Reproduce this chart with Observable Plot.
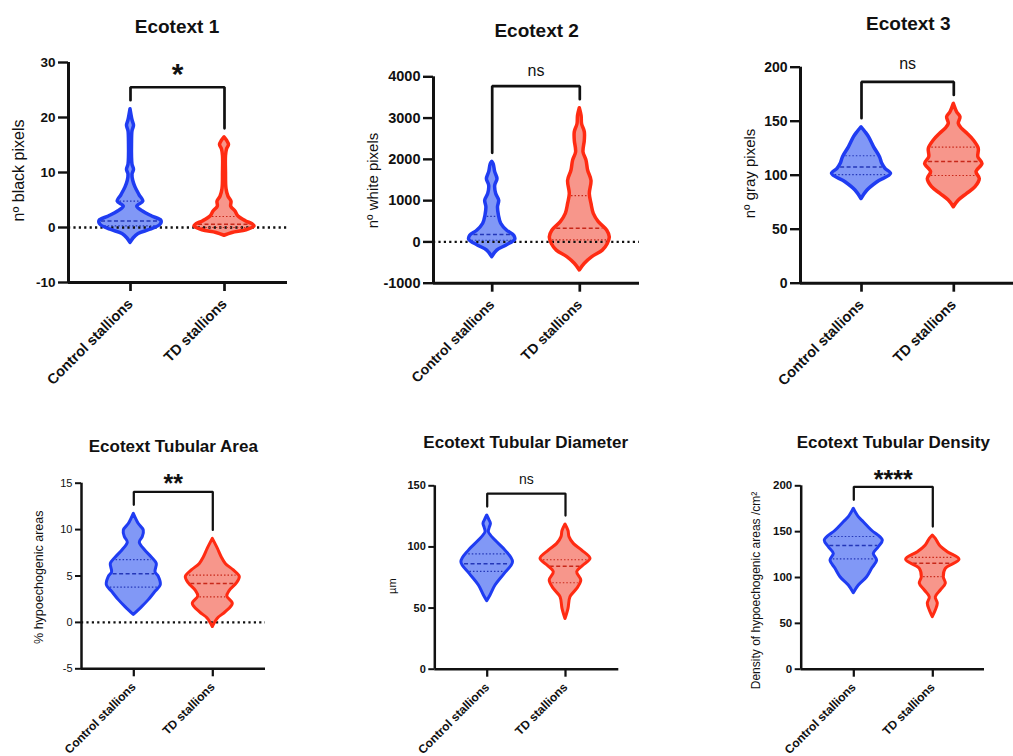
<!DOCTYPE html>
<html><head><meta charset="utf-8">
<script src="https://cdn.jsdelivr.net/npm/d3@7"></script>
<script src="https://cdn.jsdelivr.net/npm/@observablehq/plot@0.6"></script>
<style>
body{margin:0;background:#fff;font-family:"Liberation Sans",Arial,sans-serif;}
#root{position:relative;width:1013px;height:756px;overflow:hidden;background:#fff;}
.panel{position:absolute;}
.title{position:absolute;font-weight:bold;white-space:nowrap;transform:translateX(-50%);line-height:1;color:#111;}
</style></head><body><div id="root"></div>
<script>
// ---------- categories / labels ----------
const groups = ["Control stallions", "TD stallions"];
const titles = ["Ecotext 1", "Ecotext 2", "Ecotext 3", "Ecotext Tubular Area", "Ecotext Tubular Diameter", "Ecotext Tubular Density"];
const yLabels = ["nº black pixels", "nº white pixels", "nº gray pixels", "% hypoechogenic areas", "µm", "Density of hypoechogenic areas /cm²"];
const sigLabels = ["*", "ns", "ns", "**", "ns", "****"];

// ---------- tick values ----------
const ticks1 = [-10, 0, 10, 20, 30];
const ticks2 = [-1000, 0, 1000, 2000, 3000, 4000];
const ticks3 = [0, 50, 100, 150, 200];
const ticks4 = [-5, 0, 5, 10, 15];
const ticks5 = [0, 50, 100, 150];
const ticks6 = [0, 50, 100, 150, 200];

// ---------- violin profiles: value levels and relative density (half-width) ----------
// Ecotext 1
const e1CtrlY = [-2.8, -2.0, -1.2, -0.4, 0.5, 1.2, 2.0, 2.9, 3.8, 4.7, 5.9, 7.3, 8.5, 9.6, 10.5, 11.4, 13.0, 15.0, 17.5, 18.5, 19.5, 21.5];
const e1CtrlD = [0, 3, 8, 20, 30, 31, 21.7, 12.5, 6.7, 12.8, 9, 5, 2.7, 2, 3.5, 2, 1.5, 1.5, 2, 3.5, 2, 0];
const e1TdY = [-1.5, -1.0, -0.5, 0.2, 0.6, 1.1, 2.0, 2.9, 3.8, 4.7, 5.6, 7, 10, 13, 14.2, 15.0, 15.8, 16.4];
const e1TdD = [0, 8, 22, 30, 28, 21.7, 14, 11, 6.7, 7, 4, 2, 1.5, 1.5, 2.5, 4.5, 2.5, 0];
const e1CtrlQ = [0.3, 1.2, 4.8];
const e1TdQ = [0.0, 0.6, 2.0];
// Ecotext 2
const e2CtrlY = [-370, -210, -90, 50, 150, 270, 440, 640, 840, 1000, 1160, 1360, 1520, 1690, 1880, 1940];
const e2CtrlD = [0, 5, 14, 23, 22, 15, 9, 6.7, 5.8, 7, 4, 3, 5.3, 3, 1.5, 0];
const e2TdY = [-690, -530, -370, -210, -50, 110, 270, 480, 680, 920, 1160, 1480, 1730, 1970, 2170, 2450, 2660, 2850, 3050, 3240];
const e2TdD = [0, 5, 12.5, 23, 28, 30, 27.5, 19, 14, 11.7, 10, 11.7, 8.3, 6.7, 3.7, 5, 5, 2.3, 1.8, 0];
const e2CtrlQ = [40, 180, 620];
const e2TdQ = [50, 330, 1120];
// Ecotext 3
const e3CtrlY = [78, 85.8, 93.5, 101.2, 105.9, 110.5, 116.7, 126, 135.2, 139.8, 144.4];
const e3CtrlD = [0, 6, 16, 29.5, 24, 20.8, 18.5, 12.5, 7.5, 4, 0];
const e3TdY = [70.4, 76.5, 82.7, 88.9, 96.6, 102.8, 110.5, 116.7, 124.4, 132.1, 138.3, 142.9, 147.5, 153.7, 158.3, 166];
const e3TdD = [0, 5, 13.3, 21.7, 26, 22.7, 28.7, 24.5, 25, 20, 13.7, 8.3, 5, 6.7, 3.3, 0];
const e3CtrlQ = [100.5, 107.5, 118];
const e3TdQ = [99.7, 112.7, 126];
// Tubular area
const e4CtrlY = [0.8, 1.65, 2.4, 3.3, 4.0, 4.9, 5.4, 6.3, 7.0, 7.8, 8.6, 9.2, 9.9, 10.6, 11.7];
const e4CtrlD = [0, 8.3, 15, 21.7, 27, 25, 21.7, 23, 18, 11, 6, 9, 10, 5, 0];
const e4TdY = [-0.5, 0.4, 1.1, 2.0, 2.8, 3.4, 4.2, 4.9, 5.6, 6.3, 7.0, 7.95, 9.0];
const e4TdD = [0, 5, 13, 20, 14.5, 17, 24, 27, 21, 13, 9, 5, 0];
const e4CtrlQ = [3.8, 5.25, 6.76];
const e4TdQ = [2.75, 4.2, 5.1];
// Tubular diameter
const e5CtrlY = [55.6, 60.3, 68.4, 78, 87.5, 97, 105.2, 112, 115.5, 118.9, 122, 125.7];
const e5CtrlD = [0, 3.3, 8.3, 17.5, 25.8, 18.3, 8.3, 1.7, 2.5, 3.7, 2.2, 0];
const e5TdY = [41, 49.4, 58.9, 65.7, 72.5, 79.3, 84.8, 90.3, 97, 102.5, 108, 113, 118.3];
const e5TdD = [0, 3, 5, 11.7, 15.8, 11.7, 18, 25, 16.7, 8.3, 4, 3, 0];
const e5CtrlQ = [80, 86.2, 94.3];
const e5TdQ = [70.7, 84.2, 89.5];
// Tubular density
const e6CtrlY = [82.9, 91.3, 100.3, 109.5, 118.5, 125.8, 133, 140.3, 151.2, 160.3, 165.8, 174.9];
const e6CtrlD = [0, 5, 13.3, 18.3, 23.3, 20, 25, 29, 18, 10, 5, 0];
const e6TdY = [56.7, 64, 71.3, 78.5, 85.8, 93.1, 100.3, 109.5, 119.3, 127.6, 134.9, 142.2, 145.8];
const e6TdD = [0, 3, 5, 3, 8, 13, 11, 13, 26.7, 15, 7, 3, 0];
const e6CtrlQ = [120.4, 134.9, 144.7];
const e6TdQ = [101, 115.6, 122];

// ---------- styles ----------
const strokeCol = ["#1f3cf2", "#ff2b12"];
const fillCol = ["#8198f6", "#f7968b"];
const qCol = ["#2437b8", "#c8281a"];

// ---------- layout (page pixels) ----------
const layout = [
  {box:[0,0,340,400], L:68, R:287, top:62, bottom:282, cC:130, cT:224, yDom:[-10,30], ticks:ticks1, zero:true,
   title:{x:177, base:33, fs:19}, ylab:{x:18, y:170, fs:16}, tickFs:13.5, xFs:14.5, tickW:true, ySize:10, xSize:9, xPad:10, axisW:3, vw:3.5, sigFs:30, sigDy:8, sigBold:true},
  {box:[340,0,340,400], L:433, R:639, top:76.3, bottom:282.7, cC:491.7, cT:579.3, yDom:[-1000,4000], ticks:ticks2, zero:true,
   title:{x:536.7, base:37, fs:19}, ylab:{x:373, y:180, fs:15}, tickFs:14.5, xFs:14, tickW:true, ySize:10, xSize:9, xPad:10, axisW:3, vw:3.5, sigFs:16, sigDy:-2, sigBold:false},
  {box:[680,0,333,400], L:800, R:1013, top:66.7, bottom:282.7, cC:861, cT:953.3, yDom:[0,200], ticks:ticks3, zero:false,
   title:{x:908.3, base:30, fs:19}, ylab:{x:750, y:173, fs:15}, tickFs:14, xFs:14.5, tickW:true, ySize:10, xSize:9, xPad:10, axisW:3, vw:3.5, sigFs:16, sigDy:-5, sigBold:false},
  {box:[0,400,340,356], L:81, R:265, top:482.7, bottom:668.3, cC:133.3, cT:212.3, yDom:[-5,15], ticks:ticks4, zero:true,
   title:{x:173.3, base:452.3, fs:17}, ylab:{x:38.3, y:576.7, fs:12.5}, tickFs:11, xFs:12, tickW:false, ySize:6, xSize:8, xPad:8, axisW:2.5, vw:3, sigFs:25, sigDy:10, sigBold:true},
  {box:[340,400,340,356], L:434.3, R:618.3, top:485.3, bottom:668.7, cC:486.7, cT:565, yDom:[0,150], ticks:ticks5, zero:false,
   title:{x:525.7, base:448.3, fs:17}, ylab:{x:391.7, y:585.7, fs:11}, tickFs:11, xFs:12, tickW:true, ySize:6, xSize:8, xPad:8, axisW:2.5, vw:3, sigFs:14, sigDy:-2, sigBold:false},
  {box:[680,400,333,356], L:800.7, R:984, top:485.3, bottom:668.7, cC:853.3, cT:932.3, yDom:[0,200], ticks:ticks6, zero:false,
   title:{x:893.3, base:448.3, fs:17}, ylab:{x:756, y:590, fs:12}, tickFs:11.5, xFs:12, tickW:true, ySize:6, xSize:8, xPad:8, axisW:2.5, vw:3, sigFs:25, sigDy:11, sigBold:true}
];

const series = [
  [[e1CtrlY, e1CtrlD, e1CtrlQ], [e1TdY, e1TdD, e1TdQ]],
  [[e2CtrlY, e2CtrlD, e2CtrlQ], [e2TdY, e2TdD, e2TdQ]],
  [[e3CtrlY, e3CtrlD, e3CtrlQ], [e3TdY, e3TdD, e3TdQ]],
  [[e4CtrlY, e4CtrlD, e4CtrlQ], [e4TdY, e4TdD, e4TdQ]],
  [[e5CtrlY, e5CtrlD, e5CtrlQ], [e5TdY, e5TdD, e5TdQ]],
  [[e6CtrlY, e6CtrlD, e6CtrlQ], [e6TdY, e6TdD, e6TdQ]]
];

const root = document.getElementById("root");
const FONT = '"Liberation Sans", Arial, sans-serif';

function interp(ys, ds, v) {
  for (let i = 0; i < ys.length - 1; i++) {
    if (v >= ys[i] && v <= ys[i + 1]) {
      const t = (v - ys[i]) / (ys[i + 1] - ys[i]);
      return ds[i] + t * (ds[i + 1] - ds[i]);
    }
  }
  return 0;
}

layout.forEach((p, k) => {
  const [ox, oy, W, H] = p.box;
  const unit = p.cT - p.cC;               // px per category step
  const xmin = (p.L - p.cC) / unit, xmax = (p.R - p.cC) / unit;
  const pxPerY = (p.bottom - p.top) / (p.yDom[1] - p.yDom[0]);
  const marks = [];

  // violin fills
  series[k].forEach(([ys, ds], g) => {
    const pts = ys.map((y, j) => ({y, h: ds[j] / unit}));
    marks.push(Plot.areaX(pts, {y: "y", x1: d => g - d.h, x2: d => g + d.h, fill: fillCol[g], curve: "catmull-rom"}));
  });
  // zero line
  if (p.zero) marks.push(Plot.ruleY([0], {stroke: "#111", strokeWidth: 2.4, strokeDasharray: "2.2,3.2"}));
  // quartiles
  series[k].forEach(([ys, ds, qs], g) => {
    const qd = qs.map((q, j) => ({y: q, h: Math.max(0, interp(ys, ds, q) - 2) / unit, med: j === 1}));
    marks.push(Plot.ruleY(qd.filter(d => !d.med), {y: "y", x1: d => g - d.h, x2: d => g + d.h, stroke: qCol[g], strokeWidth: 1.2, strokeDasharray: "1.5,2"}));
    marks.push(Plot.ruleY(qd.filter(d => d.med), {y: "y", x1: d => g - d.h, x2: d => g + d.h, stroke: qCol[g], strokeWidth: 1.5, strokeDasharray: "4,2.5"}));
  });
  // violin outlines
  series[k].forEach(([ys, ds], g) => {
    const pts = ys.map((y, j) => ({y, h: ds[j] / unit}));
    marks.push(Plot.areaX(pts, {y: "y", x1: d => g - d.h, x2: d => g + d.h, fill: "none", stroke: strokeCol[g], strokeWidth: p.vw, strokeLinejoin: "round", curve: "catmull-rom"}));
  });
  // axes lines
  marks.push(Plot.ruleX([xmin], {stroke: "#111", strokeWidth: p.axisW}));
  marks.push(Plot.ruleY([p.yDom[0]], {stroke: "#111", strokeWidth: p.axisW}));
  marks.push(Plot.axisY({ticks: p.ticks, tickSize: p.ySize, tickPadding: 3, strokeWidth: p.axisW * 0.8,
    fontSize: p.tickFs, fontWeight: p.tickW ? "bold" : "normal", label: null, tickFormat: d => String(d)}));
  marks.push(Plot.axisX({ticks: [0, 1], tickSize: p.xSize, tickPadding: p.xPad, strokeWidth: p.axisW * 0.9,
    tickRotate: -45, fontSize: p.xFs, fontWeight: "bold", label: null, tickFormat: i => groups[i]}));
  // significance bracket
  const maxes = series[k].map(([ys]) => d3.max(ys));
  const legEnd = maxes.map(m => m + 9 / pxPerY);
  const top = d3.max(legEnd) + 13 / pxPerY;
  const br = [{x: 0, y: legEnd[0]}, {x: 0, y: top}, {x: 1, y: top}, {x: 1, y: legEnd[1]}];
  marks.push(Plot.line(br, {x: "x", y: "y", stroke: "#111", strokeWidth: p.axisW * 0.9, strokeLinejoin: "miter"}));
  marks.push(Plot.text([sigLabels[k]], {x: 0.5, y: top, text: d => d, dy: -p.sigFs * 0.25 + p.sigDy - 4, lineAnchor: "bottom",
    fontSize: p.sigFs, fontWeight: p.sigBold ? "bold" : "normal", fill: "#111"}));
  // y label (placed from layout pixels, converted into the panel's scales)
  const labX = (p.ylab.x - p.cC) / unit;
  const labY = p.yDom[0] + (p.bottom - p.ylab.y) / pxPerY;
  marks.push(Plot.text([yLabels[k]], {x: () => labX, y: () => labY, text: d => d,
    rotate: -90, fontSize: p.ylab.fs, fill: "#111"}));

  const svg = Plot.plot({
    width: W, height: H,
    marginLeft: p.L - ox, marginRight: ox + W - p.R, marginTop: p.top - oy, marginBottom: oy + H - p.bottom,
    x: {type: "linear", domain: [xmin, xmax]},
    y: {type: "linear", domain: p.yDom},
    style: {background: "transparent", overflow: "visible", fontFamily: FONT, color: "#111"},
    marks
  });
  svg.classList.add("panel");
  svg.style.left = ox + "px";
  svg.style.top = oy + "px";
  root.appendChild(svg);

  const t = document.createElement("div");
  t.className = "title";
  t.textContent = titles[k];
  t.style.fontSize = p.title.fs + "px";
  t.style.left = p.title.x + "px";
  t.style.top = (p.title.base - 0.85 * p.title.fs) + "px";
  root.appendChild(t);
});
</script></body></html>
